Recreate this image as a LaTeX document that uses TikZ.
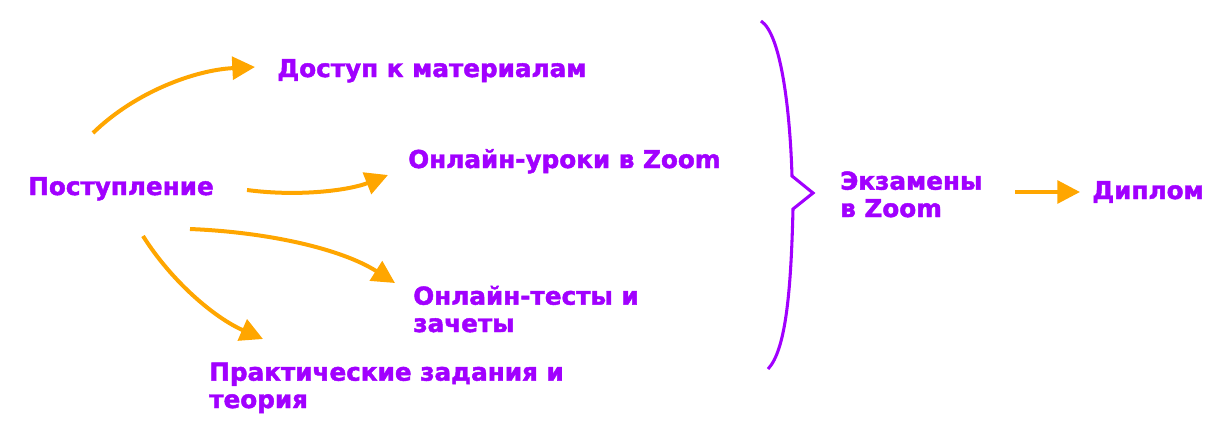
\documentclass[tikz,border=0pt]{standalone}
\usepackage{fontspec}
\setmainfont[BoldFeatures={FakeBold=1.8}]{DejaVu Sans}
\usetikzlibrary{arrows.meta}

\definecolor{purp}{RGB}{161,0,255}
\definecolor{orng}{RGB}{255,166,0}

\tikzset{
  lbl/.style={anchor=base west, inner sep=0pt, text=purp, align=left,
    font=\fontsize{18.5pt}{20.5pt}\selectfont\bfseries},
  arr/.style={orng, line width=3pt, -{Triangle[length=17pt,width=17pt]}}
}

\begin{document}
\begin{tikzpicture}[x=0.75pt, y=-0.75pt]

\useasboundingbox (0,0) rectangle (1226,440);

% -----------------------------
% Labels
% -----------------------------
\node[lbl] (post)  at (28,195)   {Поступление};
\node[lbl] (dost)  at (277,77)   {Доступ к материалам};
\node[lbl] (urok)  at (408,168)  {Онлайн-уроки в Zoom};
\node[lbl] (test)  at (413,332)  {Онлайн-тесты и\\зачеты};
\node[lbl] (prak)  at (209,408)  {Практические задания и\\теория};
\node[lbl] (exam)  at (840,217)  {Экзамены\\в Zoom};
\node[lbl] (dipl)  at (1092,199) {Диплом};

% -----------------------------
% Arrow ends
% -----------------------------
\coordinate (a1) at (93,133);   \coordinate (b1) at (255,67);
\coordinate (a2) at (247,190);  \coordinate (b2) at (388,175);
\coordinate (a3) at (190,229);  \coordinate (b3) at (395,283);
\coordinate (a4) at (143,236);  \coordinate (b4) at (263,339);
\coordinate (a5) at (1015,192); \coordinate (b5) at (1080,192);

% -----------------------------
% Arrows
% -----------------------------
\draw[arr] (a1) .. controls (135,92) and (195,70) .. (b1);   % to materials
\draw[arr] (a2) .. controls (300,197) and (350,190) .. (b2); % to lessons
\draw[arr] (a3) .. controls (265,232) and (340,248) .. (b3); % to tests
\draw[arr] (a4) .. controls (172,282) and (215,318) .. (b4); % to practice
\draw[arr] (a5) -- (b5);                                     % to diploma

% -----------------------------
% Brace
% -----------------------------
\draw[purp, line width=2.3pt, line join=miter]
  (761,21) .. controls (781,34) and (790,110) .. (792,176)
  -- (813,193) -- (793,209)
  .. controls (791,290) and (786,350) .. (768,369);

\end{tikzpicture}
\end{document}
